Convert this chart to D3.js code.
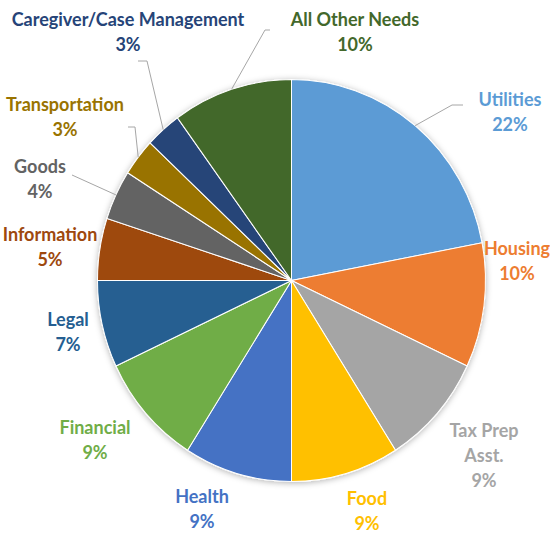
<!DOCTYPE html>
<html>
<head>
<meta charset="utf-8">
<script src="https://cdn.jsdelivr.net/npm/d3@7"></script>
<style>
  body { margin: 0; background: #fff; }
  text { font-family: Lato, "Open Sans", sans-serif; font-weight: bold; }
</style>
</head>
<body>
<svg id="chart" width="550" height="537"></svg>
<script>
// data
let categories = ['Utilities','Housing','Tax Prep Asst.','Food','Health','Financial','Legal','Information','Goods','Transportation','Caregiver/Case Management','All Other Needs'];
let values = [22,10,9,9,9,9,7,5,4,3,3,10];
let colors = ['#5B9BD5','#ED7D31','#A5A5A5','#FFC000','#4472C4','#70AD47','#255E91','#9E480E','#636363','#997300','#264478','#43682B'];

// label layout (text block center, line list, leader line start)
let labelPos = {
  'Utilities': {x:510, y:100, lines:['Utilities'], lead:[[463,105],[452,105]]},
  'Housing': {x:517, y:249, lines:['Housing']},
  'Tax Prep Asst.': {x:484, y:431, lines:['Tax Prep','Asst.']},
  'Food': {x:367, y:499, lines:['Food']},
  'Health': {x:202, y:497, lines:['Health']},
  'Financial': {x:95, y:428, lines:['Financial']},
  'Legal': {x:68, y:320, lines:['Legal']},
  'Information': {x:50, y:235, lines:['Information']},
  'Goods': {x:40, y:167, lines:['Goods'], lead:[[72,175]]},
  'Transportation': {x:65, y:105, lines:['Transportation'], lead:[[128,127],[135,127]]},
  'Caregiver/Case Management': {x:128, y:20, lines:['Caregiver/Case Management'], lead:[[138,61],[147,61]]},
  'All Other Needs': {x:355, y:20, lines:['All Other Needs'], lead:[[270,30],[265,30]]}
};

let cx = 291.5, cy = 280.5;
let rx = 194, ry = 201;
let lineH = 25;

let svg = d3.select('#chart');
let defs = svg.append('defs');
let f = defs.append('filter').attr('id','shadow').attr('x','-10%').attr('y','-10%').attr('width','120%').attr('height','120%');
f.append('feDropShadow').attr('dx',0).attr('dy',1).attr('stdDeviation',3).attr('flood-color','#000').attr('flood-opacity',0.3);

let data = categories.map((c,i)=>({name:c, value:values[i], color:colors[i]}));
let pie = d3.pie().sort(null).value(d=>d.value);
let arcs = pie(data);
let arc = d3.arc().innerRadius(0).outerRadius(rx);

let g = svg.append('g')
    .attr('transform',`translate(${cx},${cy}) scale(1,${ry/rx})`);

g.append('g')
    .attr('filter','url(#shadow)')
    .selectAll('path')
    .data(arcs)
    .enter()
    .append('path')
    .attr('d',arc)
    .attr('fill',d=>d.data.color)
    .attr('stroke','#fff')
    .attr('stroke-width',1);

// leader lines to the slice edge at the mid angle
let leaders = svg.append('g');
arcs.forEach(function(a){
    let lp = labelPos[a.data.name];
    if(!lp.lead) return;
    let mid = (a.startAngle + a.endAngle)/2;
    let end = [cx + Math.sin(mid)*rx, cy - Math.cos(mid)*ry];
    let pts = lp.lead.concat([end]);
    leaders.append('path')
        .attr('d', d3.line()(pts))
        .attr('fill','none')
        .attr('stroke','#a6a6a6')
        .attr('stroke-width',1);
});

// labels
let labels = svg.append('g');
arcs.forEach(function(a){
    let lp = labelPos[a.data.name];
    let t = labels.append('text')
        .attr('text-anchor','middle')
        .attr('fill',a.data.color)
        .attr('font-size',18);
    let lines = lp.lines.concat([a.data.value + '%']);
    lines.forEach(function(s,i){
        t.append('tspan')
            .attr('x',lp.x)
            .attr('y',lp.y + i*lineH)
            .attr('dy','0.35em')
            .text(s);
    });
});
</script>
</body>
</html>
